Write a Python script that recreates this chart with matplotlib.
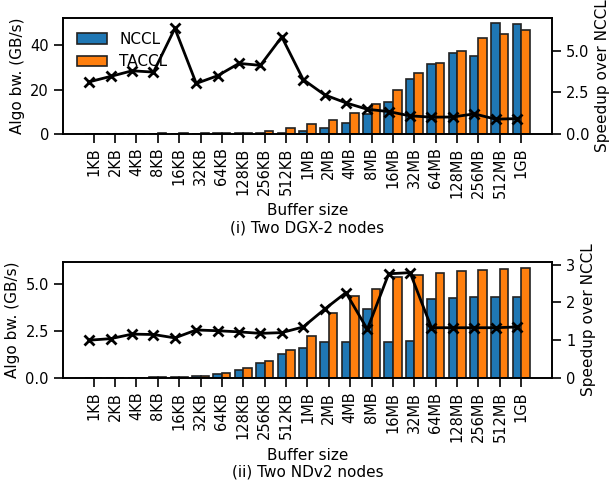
import numpy as np
import matplotlib
matplotlib.use("Agg")
import matplotlib.pyplot as plt

sizes = ["1KB", "2KB", "4KB", "8KB", "16KB", "32KB", "64KB", "128KB", "256KB", "512KB",
         "1MB", "2MB", "4MB", "8MB", "16MB", "32MB", "64MB", "128MB", "256MB", "512MB", "1GB"]

# (i) Two DGX-2 nodes
dgx_nccl = [0.003, 0.006, 0.01, 0.019, 0.019, 0.033, 0.057, 0.12, 0.25, 0.41,
            1.0, 2.5, 5.0, 9.1, 14.5, 24.8, 31.5, 36.7, 35.3, 50.0, 49.5]
dgx_taccl = [0.01, 0.02, 0.04, 0.07, 0.12, 0.1, 0.2, 0.5, 1.05, 2.4,
             4.2, 6.2, 9.5, 13.6, 20.0, 27.7, 32.1, 37.3, 43.2, 45.3, 47.1]
dgx_speedup = [3.15, 3.48, 3.82, 3.74, 6.40, 3.05, 3.52, 4.27, 4.15, 5.88,
               3.29, 2.36, 1.87, 1.48, 1.34, 1.08, 1.00, 1.01, 1.20, 0.88, 0.91]

# (ii) Two NDv2 nodes
nd_nccl = [0.004, 0.008, 0.014, 0.026, 0.048, 0.09, 0.21, 0.44, 0.78, 1.26,
           1.61, 1.90, 1.93, 3.65, 1.93, 1.97, 4.20, 4.27, 4.31, 4.33, 4.33]
nd_taccl = [0.004, 0.008, 0.016, 0.03, 0.05, 0.12, 0.28, 0.51, 0.92, 1.51,
            2.23, 3.48, 4.36, 4.73, 5.39, 5.50, 5.60, 5.67, 5.73, 5.78, 5.87]
nd_speedup = [1.00, 1.04, 1.16, 1.15, 1.06, 1.27, 1.25, 1.22, 1.18, 1.20,
              1.35, 1.82, 2.26, 1.29, 2.76, 2.79, 1.33, 1.33, 1.33, 1.33, 1.35]

plt.rcParams["font.size"] = 11
plt.rcParams["xtick.labelsize"] = 10.5
plt.rcParams["ytick.labelsize"] = 10.5
plt.rcParams["axes.linewidth"] = 1.2
plt.rcParams["xtick.major.size"] = 6.5
plt.rcParams["ytick.major.size"] = 6.5
plt.rcParams["xtick.major.width"] = 1.2
plt.rcParams["ytick.major.width"] = 1.2

fig, axes = plt.subplots(2, 1, figsize=(6.1, 4.82), dpi=100)
plt.subplots_adjust(left=0.103, right=0.905, top=0.963, bottom=0.216, hspace=1.11)

x = np.arange(len(sizes))
w = 0.4

panels = [(dgx_nccl, dgx_taccl, dgx_speedup, "(i) Two DGX-2 nodes", [0, 2.5, 5.0]),
          (nd_nccl, nd_taccl, nd_speedup, "(ii) Two NDv2 nodes", [0, 1, 2, 3])]

for i, (nccl, taccl, speedup, title, rticks) in enumerate(panels):
    ax = axes[i]
    ax.bar(x - w / 2, nccl, w, color="tab:blue", edgecolor="#222222", linewidth=1.2, label="NCCL")
    ax.bar(x + w / 2, taccl, w, color="tab:orange", edgecolor="#222222", linewidth=1.2, label="TACCL")
    ax.set_xticks(x)
    ax.set_xticklabels(sizes, rotation=90)
    ax.set_ylabel("Algo bw. (GB/s)")
    ax.set_xlabel("Buffer size\n" + title)
    if i == 0:
        ax.legend(loc="upper left", frameon=False, fontsize=11)
    else:
        ax.set_yticks([0, 2.5, 5.0])

    ax2 = ax.twinx()
    ax2.plot(x - w / 2, speedup, color="black", marker="x", linewidth=2,
             markersize=7, markeredgewidth=2)
    ax2.set_ylim(0, max(speedup) * 1.1)
    ax2.set_yticks(rticks)
    ax2.set_ylabel("Speedup over NCCL")

plt.savefig("out.png")
